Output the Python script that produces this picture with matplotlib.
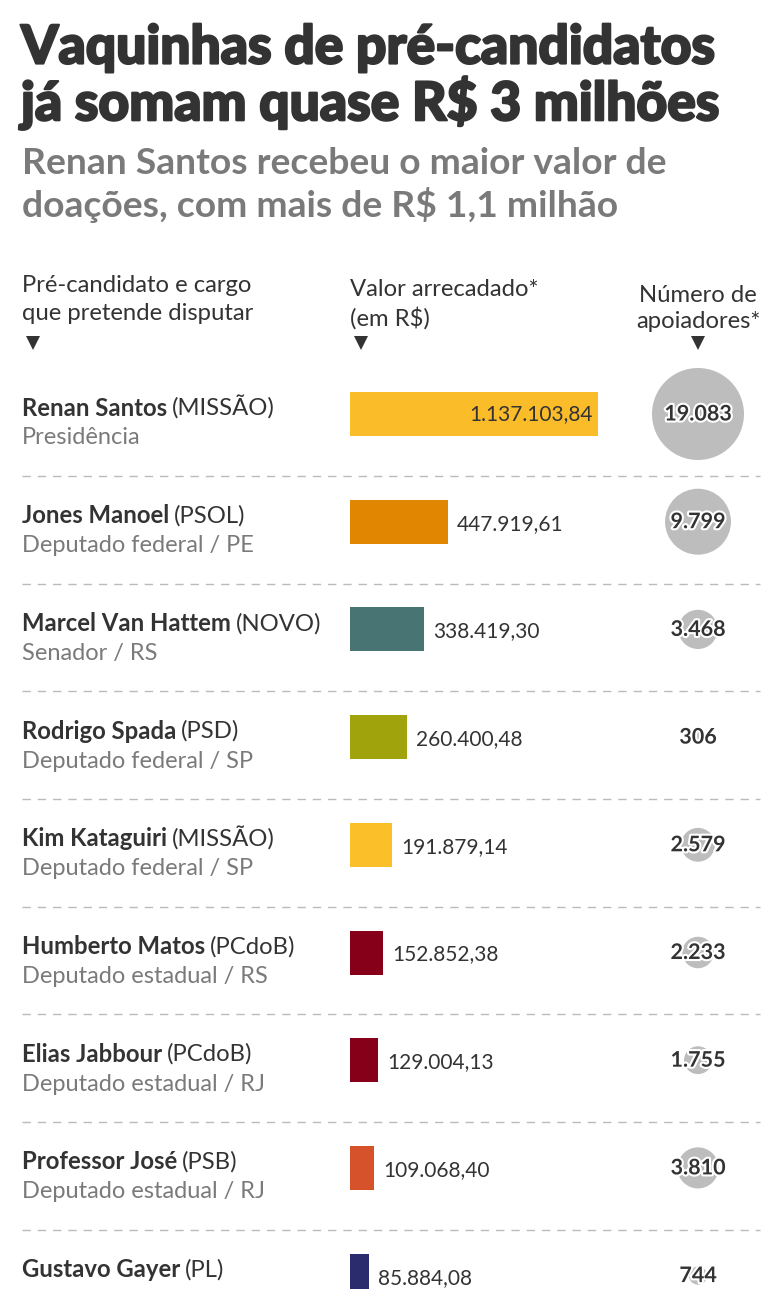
import matplotlib
matplotlib.use('Agg')
import matplotlib.pyplot as plt
import matplotlib.patheffects as pe
import numpy as np

plt.rcParams['font.family'] = ['Lato', 'DejaVu Sans']

# data
names = ['Renan Santos', 'Jones Manoel', 'Marcel Van Hattem', 'Rodrigo Spada', 'Kim Kataguiri',
         'Humberto Matos', 'Elias Jabbour', 'Professor José', 'Gustavo Gayer']
partidos = ['MISSÃO', 'PSOL', 'NOVO', 'PSD', 'MISSÃO', 'PCdoB', 'PCdoB', 'PSB', 'PL']
cargos = ['Presidência', 'Deputado federal / PE', 'Senador / RS', 'Deputado federal / SP',
          'Deputado federal / SP', 'Deputado estadual / RS', 'Deputado estadual / RJ',
          'Deputado estadual / RJ', '']
valores = [1137103.84, 447919.61, 338419.30, 260400.48, 191879.14, 152852.38, 129004.13, 109068.40, 85884.08]
apoiadores = [19083, 9799, 3468, 306, 2579, 2233, 1755, 3810, 744]
cores = ['#FBBC2A', '#E08600', '#497474', '#A0A30C', '#FBBF2A', '#86001A', '#86001A', '#D6522A', '#2B2C6E']

DARK = '#333333'
GREY = '#7a7a7a'

def br(v, dec=2):
    s = f'{v:,.{dec}f}'
    return s.replace(',', 'X').replace('.', ',').replace('X', '.')

W, H = 768, 1289
fig = plt.figure(figsize=(W / 100, H / 100), dpi=100)
ax = fig.add_axes([0, 0, 1, 1])
ax.set_xlim(0, W)
ax.set_ylim(H, 0)
ax.axis('off')

# title (a stroke makes it look heavier)
heavy = [pe.withStroke(linewidth=1.6, foreground=DARK)]
ax.text(21, 48, 'Vaquinhas de pré-candidatos', fontsize=38.4, fontweight='black', color=DARK,
        va='center', path_effects=heavy)
ax.text(21, 103, 'já somam quase R$ 3 milhões', fontsize=38.4, fontweight='black', color=DARK,
        va='center', path_effects=heavy)
ax.text(22, 163, 'Renan Santos recebeu o maior valor de', fontsize=26.8, fontweight='bold',
        color=GREY, va='center')
ax.text(22, 205, 'doações, com mais de R$ 1,1 milhão', fontsize=26.8, fontweight='bold',
        color=GREY, va='center')

# column headers
hdr = dict(fontsize=17.2, color=DARK, va='center')
ax.text(22, 286, 'Pré-candidato e cargo', **hdr)
ax.text(22, 314, 'que pretende disputar', **hdr)
ax.text(350, 290, 'Valor arrecadado*', **hdr)
ax.text(350, 318, '(em R$)', **hdr)
ax.text(698, 295, 'Número de', ha='center', **hdr)
ax.text(698, 322, 'apoiadores*', ha='center', **hdr)
ax.plot([33, 361, 698], [343, 343, 343], 'v', color=DARK, markersize=10, markeredgewidth=0)

# rows
y0, step = 414, 107.7
rows_y = y0 + step * np.arange(len(names))
bar_left = 350
px_per_real = 248 / 1137103.84
bar_w = np.array(valores) * px_per_real
ax.barh(rows_y, bar_w, left=bar_left, height=44, color=cores)

# circles, area ~ apoiadores
k = (92 * 0.72) ** 2 / 19083
ax.scatter(np.full(len(names), 698), rows_y, s=np.array(apoiadores) * k, color='#BDBDBD',
           edgecolors='none', zorder=2)

fig.canvas.draw()
renderer = fig.canvas.get_renderer()
inv = ax.transData.inverted()

for i, y in enumerate(rows_y):
    t = ax.text(22, y - 6, names[i], fontsize=17.2, fontweight='bold', color=DARK, va='center')
    bb = t.get_window_extent(renderer)
    xend = inv.transform((bb.x1, bb.y0))[0]
    ax.text(xend + 5, y - 6, f'({partidos[i]})', fontsize=17.2, color=DARK, va='center')
    if cargos[i]:
        ax.text(22, y + 24, cargos[i], fontsize=17, color=GREY, va='center')
    if i == 0:
        ax.text(bar_left + bar_w[i] - 5, y, br(valores[i]), fontsize=15, color=DARK,
                ha='right', va='center')
    else:
        ax.text(bar_left + bar_w[i] + 9, y + 2, br(valores[i]), fontsize=15, color=DARK,
                ha='left', va='center')
    ax.text(698, y, br(apoiadores[i], 0), fontsize=15.5, fontweight='bold', color=DARK,
            ha='center', va='center', zorder=3,
            path_effects=[pe.withStroke(linewidth=3, foreground='white')])
    if i < len(names) - 1:
        ax.plot([22, 760], [y + step / 2 + 8, y + step / 2 + 8], color='#BBBBBB', lw=1,
                linestyle=(0, (6, 5)))

fig.savefig('out.png', dpi=100, facecolor='white')
